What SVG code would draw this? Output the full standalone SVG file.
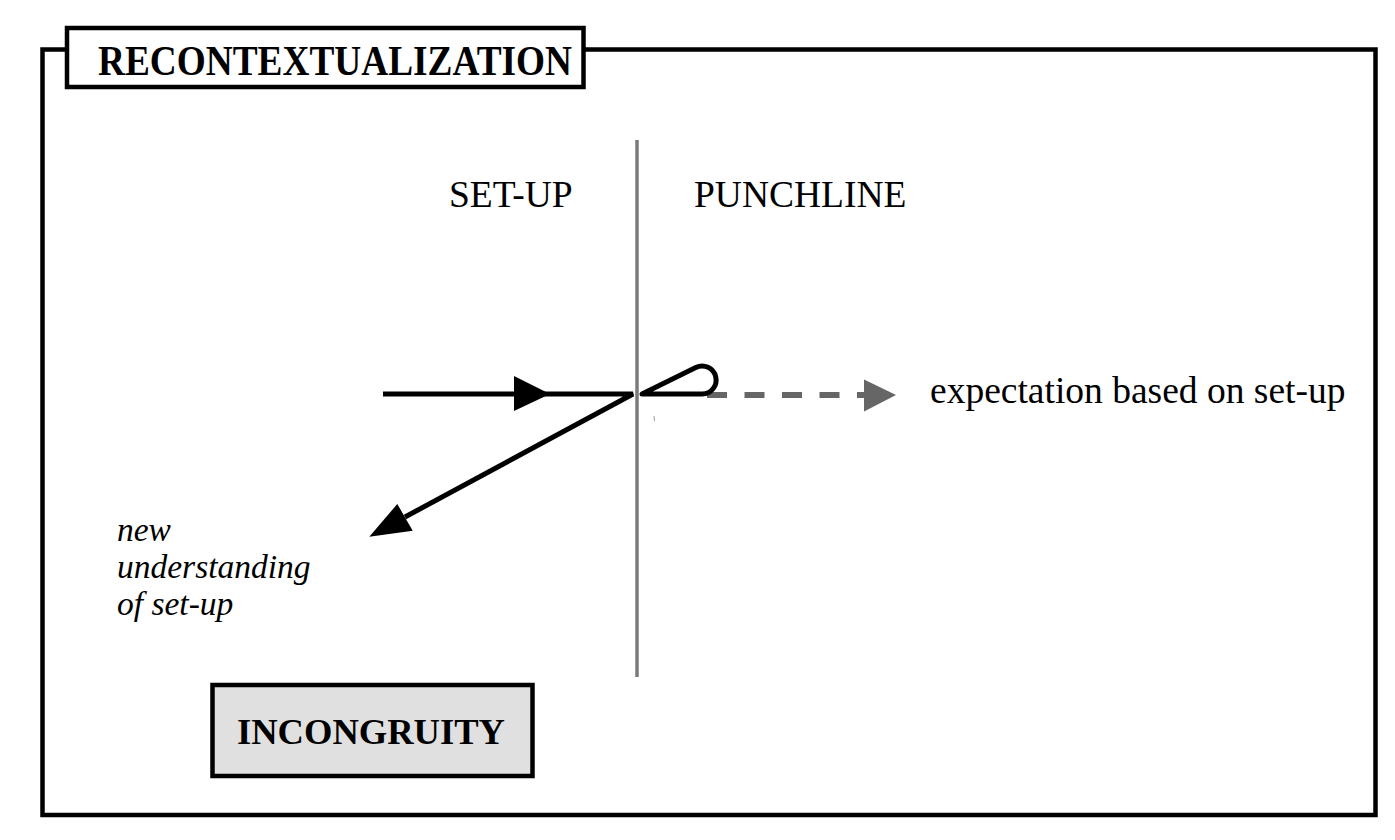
<svg xmlns="http://www.w3.org/2000/svg" width="1395" height="840" viewBox="0 0 1395 840">
<style>
.t{font-family:"Liberation Serif","Times New Roman",serif;fill:#000}
.b{font-weight:bold}
.i{font-style:italic}
.blk{stroke:#000;stroke-width:5;fill:none}
</style>
<rect width="1395" height="840" fill="#fff"/>
<g id="frame">
<rect x="42.5" y="49.5" width="1333" height="765.5" fill="none" stroke="#000" stroke-width="4.5"/>
</g>
<g id="title">
<rect x="67" y="28" width="516.5" height="59" fill="#fff" stroke="#000" stroke-width="4.5"/>
<text class="t b" x="98" y="75" font-size="43" textLength="474" lengthAdjust="spacingAndGlyphs">RECONTEXTUALIZATION</text>
</g>
<g id="divider">
<line x1="637" y1="140" x2="637" y2="677" stroke="#7a7a7a" stroke-width="3.5"/>
</g>
<g id="labels">
<text class="t" x="449" y="207" font-size="37.5">SET-UP</text>
<text class="t" x="694" y="207" font-size="37.5">PUNCHLINE</text>
<text class="t" x="930" y="403" font-size="37.5">expectation based on set-up</text>
<text class="t i" font-size="33.5"><tspan x="117" y="541">new</tspan><tspan x="117" y="578">understanding</tspan><tspan x="117" y="615">of set-up</tspan></text>
</g>
<g id="connectors">
<path class="blk" d="M383,394 L633,394 L405,517" stroke-linejoin="bevel"/>
<polygon points="514,376 550,394 514,411" fill="#000"/>
<polygon points="369.3,536.7 397.3,504 412.7,530.7" fill="#000"/>
<line x1="707" y1="395" x2="866" y2="395" stroke="#666" stroke-width="6" stroke-dasharray="20 17.5"/>
<polygon points="864,379.5 896,395 864,411.5" fill="#666"/>
<path class="blk" d="M642,394 L695.8,367.5 A14,14 0 1,1 702,394 Z" stroke-linejoin="round"/>
<line x1="654" y1="416" x2="654.5" y2="421" stroke="#999" stroke-width="1"/>
</g>
<g id="incongruity">
<rect x="212.5" y="685" width="320" height="91" fill="#e0e0e0" stroke="#000" stroke-width="4.5"/>
<text class="t b" x="237" y="744" font-size="36" textLength="268" lengthAdjust="spacingAndGlyphs">INCONGRUITY</text>
</g>
</svg>
